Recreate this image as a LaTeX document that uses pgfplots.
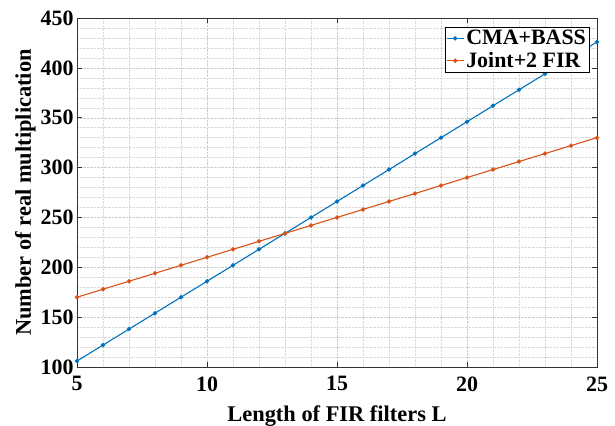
\documentclass[border=0pt]{standalone}
\usepackage{fontspec}
\setmainfont{Liberation Serif}
\usepackage{pgfplots}
\pgfplotsset{compat=1.18}
\definecolor{mblue}{rgb}{0,0.447,0.741}
\definecolor{morange}{rgb}{0.85,0.325,0.098}
\begin{document}
\begin{tikzpicture}
\begin{axis}[
  scale only axis,
  width=520bp, height=349bp,
  xmin=5, xmax=25, ymin=100, ymax=450,
  xtick={5,10,...,25}, ytick={100,150,...,450},
  minor x tick num=4, minor y tick num=4,
  grid=both,
  major grid style={densely dotted, gray!40, line width=0.4pt},
  minor grid style={densely dotted, gray!30, line width=0.4pt},
  axis line style={black!80, line width=0.6pt},
  tick style={black!80, line width=0.6pt},
  major tick length=5bp, minor tick length=0pt,
  tick align=inside,
  xtick pos=both, ytick pos=both,
  /pgf/number format/assume math mode=true,
  xticklabel={\pgfmathprintnumber{\tick}},
  yticklabel={\pgfmathprintnumber{\tick}},
  ticklabel style={font=\fontsize{22}{22}\selectfont\bfseries},
  xticklabel style={yshift=-6bp},
  label style={font=\fontsize{22.5}{22.5}\selectfont\bfseries},
  xlabel={Length of FIR filters L},
  ylabel={Number of real multiplication},
  xlabel style={yshift=-8bp},
  ylabel style={yshift=-2bp},
  legend cell align=left,
  legend style={at={(rel axis cs:0.985,0.974)}, anchor=north east,
    font=\fontsize{22}{22}\selectfont\bfseries, draw=black, line width=0.6pt,
    inner sep=1pt, row sep=2pt},
  every axis plot/.append style={line width=1.1pt, mark=*, mark size=1.6pt},
]
\addplot[mblue, mark options={fill=mblue}] coordinates {
(5,106)(6,122)(7,138)(8,154)(9,170)(10,186)(11,202)(12,218)(13,234)(14,250)
(15,266)(16,282)(17,298)(18,314)(19,330)(20,346)(21,362)(22,378)(23,394)(24,410)(25,426)};
\addlegendentry{CMA+BASS}
\addplot[morange, mark options={fill=morange}] coordinates {
(5,170)(6,178)(7,186)(8,194)(9,202)(10,210)(11,218)(12,226)(13,234)(14,242)
(15,250)(16,258)(17,266)(18,274)(19,282)(20,290)(21,298)(22,306)(23,314)(24,322)(25,330)};
\addlegendentry{Joint+2 FIR}
\end{axis}
\pgfresetboundingbox
\path[use as bounding box] ([shift={(-77bp,-59bp)}]current axis.south west) rectangle ([shift={(18bp,18bp)}]current axis.north east);
\end{tikzpicture}
\end{document}
